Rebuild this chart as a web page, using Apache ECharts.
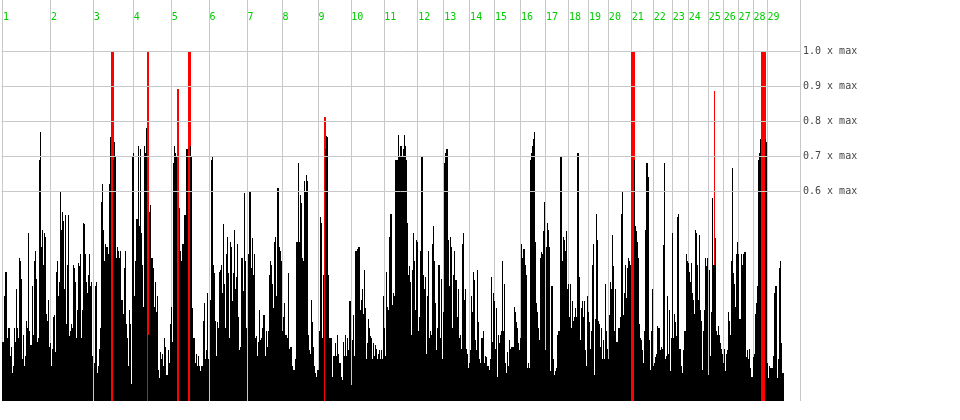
<!DOCTYPE html>
<html><head><meta charset="utf-8">
<script src="https://cdn.jsdelivr.net/npm/echarts@6/dist/echarts.min.js"></script>
<style>html,body{margin:0;padding:0;background:#fff}#c{width:960px;height:420px}</style>
</head><body><div id="c"></div>
<script>
const dayLabels = ['1','2','3','4','5','6','7','8','9','10','11','12','13','14','15','16','17','18','19','20','21','22','23','24','25','26','27','28','29'];
const dayStarts = [1,49,92,132,170,208,246,281,317,350,383,417,443,469,494,520,545,568,588,608,631,653,672,688,708,723,738,753,767];
const guideLevels = [1.0,0.9,0.8,0.7,0.6];
const peakIndex = [110,111,112,146,147,176,177,187,188,189,323,324,631,632,633,634,714,761,762,763,764,765];
const peakValue = [1,1,1,1,1,0.89,0.89,1,1,1,0.81,0.81,1,1,1,1,0.885,1,1,1,1,1];
const levels = [
.17,.17,.155,.30,.37,.37,.18,.21,.21,.13,
.155,.08,.10,.21,.17,.32,.21,.18,.41,.40,
.35,.12,.19,.10,.13,.23,.21,.48,.20,.16,
.16,.33,.19,.40,.43,.35,.17,.18,.69,.77,
.44,.49,.39,.48,.47,.25,.23,.29,.155,.165,
.10,.15,.24,.245,.14,.37,.40,.30,.34,.60,
.49,.54,.515,.32,.53,.22,.39,.53,.185,.20,
.22,.21,.39,.38,.34,.18,.26,.395,.385,.42,
.18,.26,.51,.505,.42,.34,.31,.36,.42,.33,
.34,.13,0,.11,.33,.34,.08,.10,.15,.21,
.57,.62,.49,.40,.45,.44,.44,.42,.62,.755,
0,0,.69,.74,.70,.41,.44,.43,.41,.43,
.29,.29,.25,.38,.43,.22,.18,.10,.26,.22,
.05,.70,.71,.30,.40,.52,.52,.73,.50,.72,
.48,.39,.27,.73,.71,.78,0,.19,.54,.56,
.41,.41,.38,.27,.34,.255,.30,.09,.065,.14,
.12,.135,.10,.18,.155,.075,.075,.145,.11,.22,
.27,.17,.68,.73,.71,.70,0,0,.55,.43,
.40,.45,.45,.53,.53,.72,.72,0,0,.73,
.70,.265,.18,.18,.11,.135,.10,.13,.10,.085,
.10,.10,.23,.28,.12,.145,.31,.12,0,.29,
.69,.70,.39,.365,.23,.13,.225,.21,.37,.375,
.39,.31,.505,.335,.21,.42,.47,.365,.18,.455,
.44,.285,.365,.49,.32,.355,.45,.24,.145,.155,
.41,.41,.315,.595,.40,.21,0,.42,.60,.60,
.38,.465,.36,.42,.18,.185,.13,.17,.26,.175,
.18,.21,.245,.245,.13,.20,.155,.20,.36,.40,
.39,.335,.265,.455,.47,.30,.61,.61,.44,.43,
.40,.20,.24,.28,.19,.19,.18,.365,.15,.155,
.155,.10,.09,.09,.12,.455,.455,.68,.455,.59,
.565,.41,.40,.63,.60,.645,.63,.19,.145,.135,
.29,.225,.155,.10,.08,.07,.09,.09,.20,.525,
.51,.18,.36,0,.72,.757,.753,.36,.18,.18,
.18,.07,.13,.13,.165,.13,.19,.135,.11,.11,
.07,.06,.17,.13,.19,.13,.18,.145,.285,.285,
.045,.175,.245,.13,.43,.43,.435,.44,.44,.26,
.29,.32,.25,.375,.265,.12,.165,.235,.21,.185,
.18,.12,.165,.13,.16,.15,.12,.135,.145,.12,
.145,.12,.30,.21,.13,.37,.27,.26,.47,.535,
.535,.275,.31,.30,.69,.69,.69,.76,.70,.73,
.73,.70,.72,.76,.73,.69,.51,.36,.385,.34,
.19,.375,.48,.40,.26,.46,.455,.20,.24,.43,
.70,.70,.36,.32,.355,.135,.30,.43,.18,.20,
.19,.45,.50,.40,.28,.145,.21,.39,.39,.18,
.35,.12,.255,.68,.71,.72,.72,.46,.33,.47,
.44,.21,.36,.43,.345,.345,.24,.32,.18,.19,
.15,.45,.48,.29,.32,.15,.135,.095,.11,.145,
.30,.255,.37,.345,.175,.145,.375,.225,.12,.11,
.18,.18,.20,.11,.13,.125,.10,.10,.09,.12,
.355,.17,.31,.285,.15,.265,.07,.19,.165,.19,
.20,.40,.20,.335,.11,.08,.14,.10,.175,.15,
.155,.155,.155,.27,.255,.225,.21,.165,.145,.18,
.45,.41,.435,.435,.39,.36,.095,.11,.095,.69,
.71,.73,.75,.77,.455,.455,.28,.255,.21,.175,
.41,.425,.42,.485,.57,.145,.44,.51,.49,.44,
.085,.33,.33,.12,.075,.085,.095,.19,.20,.20,
.70,.70,.40,.47,.46,.43,.485,.32,.335,.24,
.335,.21,.285,.23,.24,.265,.24,.71,.71,.355,
.175,.265,.285,.24,.285,.145,.10,.30,.255,.225,
.15,.20,.39,.45,.075,.235,.535,.46,.23,.22,
.155,.21,.12,.175,.12,.335,.20,.15,.12,.245,
.34,.32,.475,.385,.20,.32,.17,.17,.21,.21,
.24,.535,.60,.245,.31,.39,.295,.38,.41,.40,
.39,0,0,0,.69,.50,.485,.455,.41,.22,
.18,.175,.145,.11,.20,.49,.68,.68,.64,.175,
.09,.20,.32,.10,.11,.125,.135,.215,.21,.21,
.145,.155,.15,.445,.68,.12,.13,.30,.135,.26,
.085,.18,.48,.18,.25,.225,.185,.525,.535,.15,
.15,.10,.08,.145,.20,.20,.42,.40,.395,.37,
.34,.395,.31,.29,.25,.49,.48,.39,.29,.475,
.26,.23,.09,.20,.26,.41,.385,.41,.075,.375,
.13,.255,.58,.39,.39,.465,.20,.19,.215,.19,
.165,.15,.135,.11,.15,.085,.135,.145,.255,.23,
.19,.40,.665,.365,.335,.27,.42,.455,.42,.235,
.235,.42,.39,.42,.425,.425,.125,.145,.12,.15,
.095,.07,.07,.125,.135,.25,.28,.33,.69,.71,
.75,0,0,0,0,.75,.74,.11,.065,.10,
.095,.095,.095,.13,.31,.33,.33,.065,.12,.38,
.40,.165,.08,.08
];

const N = 800;
const categories = Array.from({length: N}, (_, i) => String(i));
const blackData = levels.map((v, i) => [i, v]).filter(d => d[1] > 0);
const redData = peakIndex.map((ix, k) => [ix, peakValue[k]]);
const startMap = new Map(dayStarts.map((s, k) => [s, dayLabels[k]]));

function barRenderer(color) {
  return function (params, api) {
    const i = api.value(0), v = api.value(1);
    if (!(v > 0)) return null;
    const base = api.coord([i, 0]);
    const top = api.coord([i, v]);
    const bw = api.size([1, 0])[0];
    const x = Math.round(base[0] - bw / 2);
    const y = Math.round(top[1]);
    return {
      type: 'rect',
      shape: {x: x, y: y, width: Math.max(1, Math.round(bw)), height: Math.round(base[1]) - y},
      style: {fill: color}
    };
  };
}

const chart = echarts.init(document.getElementById('c'), null, {renderer: 'canvas'});
chart.setOption({
  animation: false,
  backgroundColor: '#fff',
  grid: {left: 0, top: 0, width: 800, height: 401, containLabel: false},
  xAxis: {
    type: 'category', data: categories, position: 'top', boundaryGap: true,
    axisLine: {show: false}, axisTick: {show: false},
    axisLabel: {
      show: true, inside: true, interval: (i) => startMap.has(i),
      formatter: (v) => startMap.get(Number(v)) || '',
      color: '#00cc00', fontFamily: 'DejaVu Sans Mono', fontSize: 10,
      align: 'left', verticalAlign: 'middle', margin: 17
    },
    splitLine: {show: true, interval: (i) => startMap.has(i), lineStyle: {color: '#c8c8c8', width: 1}}
  },
  yAxis: {type: 'value', min: 0, max: 401 / 350, show: false},
  series: [
    {
      type: 'line', data: [], z: 0, silent: true,
      markLine: {
        silent: true, animation: false, symbol: ['none', 'none'],
        lineStyle: {color: '#c8c8c8', type: 'solid', width: 1},
        emphasis: {disabled: true},
        label: {position: 'end', distance: 3, formatter: (p) => Number(p.value).toFixed(1) + ' x max',
                color: '#444', fontFamily: 'DejaVu Sans Mono', fontSize: 10},
        data: guideLevels.map(v => ({yAxis: v}))
      }
    },
    {type: 'custom', data: redData, z: 1, silent: true, encode: {x: 0, y: 1}, renderItem: barRenderer('#ff0000')},
    {type: 'custom', data: blackData, z: 2, silent: true, encode: {x: 0, y: 1}, renderItem: barRenderer('#000000')}
  ]
});
</script></body></html>
